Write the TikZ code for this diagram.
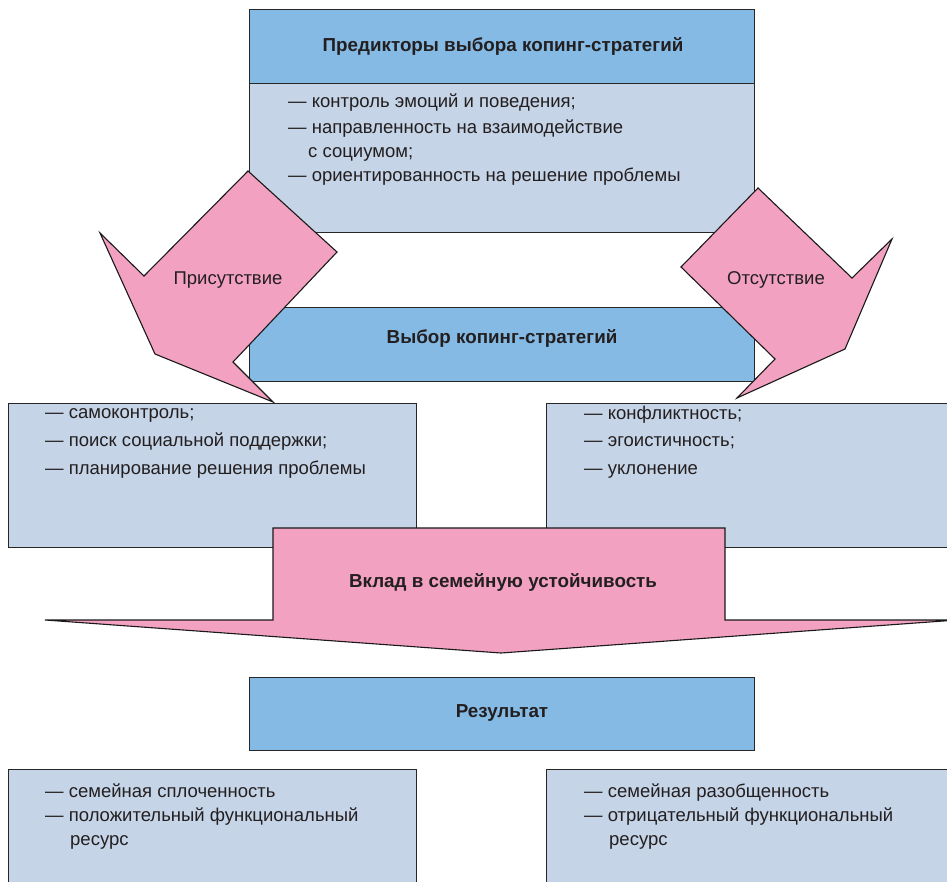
\documentclass[tikz,border=0pt]{standalone}
\usepackage{fontspec}
\setmainfont{Liberation Sans}
\definecolor{hdr}{RGB}{133,186,228}
\definecolor{bodyc}{RGB}{197,212,231}
\definecolor{pinkc}{RGB}{242,162,192}
\definecolor{txt}{RGB}{35,31,32}
\begin{document}
\begin{tikzpicture}[x=1pt,y=-1pt,
  box/.style={draw=black!85, line width=1.2pt, inner sep=0pt, anchor=north west},
  hdrbox/.style={box, fill=hdr},
  bodybox/.style={box, fill=bodyc},
  parr/.style={draw=black!90, line width=1.1pt, fill=pinkc, line join=miter},
  ttl/.style={font=\fontsize{18.8}{22}\selectfont\bfseries, text=txt},
  itm/.style={font=\fontsize{18.5}{22}\selectfont, text=txt, anchor=base west, inner sep=0pt},
  lbl/.style={font=\fontsize{18.5}{22}\selectfont, text=txt}]
\clip (0,0) rectangle (947,881);
\useasboundingbox (0,0) rectangle (947,881);
% top box
\node[hdrbox, minimum width=505pt, minimum height=74pt] (predhead) at (249,9) {};
\node[bodybox, minimum width=505pt, minimum height=149pt] (predbody) at (249,83) {};
\node[ttl] (predtitle) at (503,46) {Предикторы выбора копинг-стратегий};
\node[itm] (p1) at (288,107) {— контроль эмоций и поведения;};
\node[itm] (p2) at (288,133) {— направленность на взаимодействие};
\node[itm] (p3) at (308,157) {с социумом;};
\node[itm] (p4) at (288,181) {— ориентированность на решение проблемы};
% middle box
\node[hdrbox, minimum width=505pt, minimum height=74pt] (choice) at (249,307) {};
\node[ttl] (choicetitle) at (502,338) {Выбор копинг-стратегий};
% left / right boxes
\node[bodybox, minimum width=408pt, minimum height=144pt] (lbox) at (8,403) {};
\node[bodybox, minimum width=430pt, minimum height=144pt] (rbox) at (546,403) {};
\node[itm] (l1) at (45,418) {— самоконтроль;};
\node[itm] (l2) at (45,446) {— поиск социальной поддержки;};
\node[itm] (l3) at (45,474) {— планирование решения проблемы};
\node[itm] (r1) at (584,419) {— конфликтность;};
\node[itm] (r2) at (584,446) {— эгоистичность;};
\node[itm] (r3) at (584,474) {— уклонение};
% left arrow
\draw[parr] (248,171) -- (337,252) -- (233,362) -- (273,402) -- (155,354) -- (100,233) -- (144,276) -- cycle;
\node[lbl] (pres) at (228,280) {Присутствие};
% right arrow
\draw[parr] (758,188) -- (852,278) -- (892,239) -- (845,349) -- (737,398) -- (775,359) -- (681,267) -- cycle;
\node[lbl] (abs) at (776,280) {Отсутствие};
% big arrow
\draw[parr] (273,528) -- (725,528) -- (725,620) -- (957,620) -- (501,653) -- (45,620) -- (273,620) -- cycle;
\node[ttl] (contrib) at (503,582) {Вклад в семейную устойчивость};
% result
\node[hdrbox, minimum width=505pt, minimum height=73pt] (res) at (249,677) {};
\node[ttl] (restitle) at (502,713) {Результат};
% bottom boxes
\node[bodybox, minimum width=408pt, minimum height=140pt] (lres) at (8,769) {};
\node[bodybox, minimum width=430pt, minimum height=140pt] (rres) at (546,769) {};
\node[itm] (lr1) at (45,797) {— семейная сплоченность};
\node[itm] (lr2) at (45,821) {— положительный функциональный};
\node[itm] (lr3) at (70,845) {ресурс};
\node[itm] (rr1) at (584,797) {— семейная разобщенность};
\node[itm] (rr2) at (584,821) {— отрицательный функциональный};
\node[itm] (rr3) at (609,845) {ресурс};
\end{tikzpicture}
\end{document}
